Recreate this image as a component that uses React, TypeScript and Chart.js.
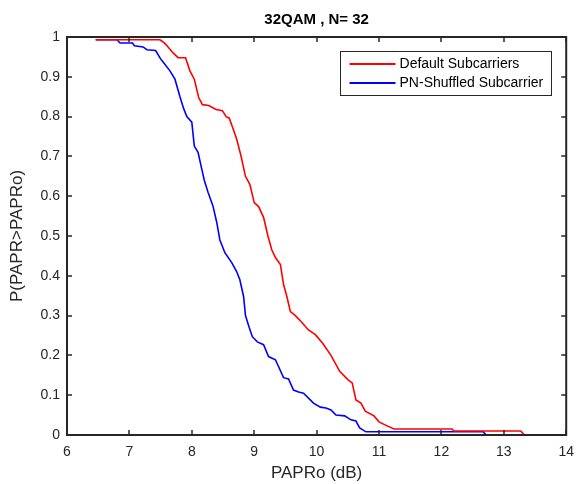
import React, { useEffect, useRef } from "react";
import { Chart, registerables } from "chart.js";

Chart.register(...registerables);

const TITLE = "32QAM , N= 32";
const X_LABEL = "PAPRo (dB)";
const Y_LABEL = "P(PAPR>PAPRo)";

const X_TICKS = [6, 7, 8, 9, 10, 11, 12, 13, 14];
const X_TICK_LABELS = ["6", "7", "8", "9", "10", "11", "12", "13", "14"];
const Y_TICKS = [0, 0.1, 0.2, 0.3, 0.4, 0.5, 0.6, 0.7, 0.8, 0.9, 1];
const Y_TICK_LABELS = ["0", "0.1", "0.2", "0.3", "0.4", "0.5", "0.6", "0.7", "0.8", "0.9", "1"];

const DEFAULT_LABEL = "Default Subcarriers";
const DEFAULT_X = [
  6.46, 7.49, 7.56, 7.62, 7.7, 7.78, 7.9, 7.97, 8.04, 8.11, 8.17, 8.27, 8.39, 8.49, 8.55,
  8.6, 8.66, 8.72, 8.79, 8.86, 8.93, 9.0, 9.07, 9.15, 9.22, 9.28, 9.34, 9.42, 9.47, 9.52,
  9.58, 9.66, 9.75, 9.87, 9.98, 10.1, 10.23, 10.37, 10.5, 10.57, 10.63, 10.71, 10.78, 10.92,
  11.0, 11.13, 11.24, 12.17, 12.2, 13.27, 13.33,
];
const DEFAULT_Y = [
  0.993, 0.993, 0.985, 0.975, 0.96, 0.948, 0.948, 0.915, 0.894, 0.848, 0.83, 0.828, 0.818,
  0.815, 0.8, 0.796, 0.77, 0.743, 0.7, 0.65, 0.63, 0.584, 0.574, 0.547, 0.5, 0.466, 0.446,
  0.428, 0.378, 0.35, 0.31, 0.3, 0.285, 0.264, 0.252, 0.23, 0.2, 0.16, 0.139, 0.131, 0.088,
  0.08, 0.06, 0.048, 0.033, 0.023, 0.015, 0.015, 0.01, 0.01, 0.0,
];

const SHUFFLED_LABEL = "PN-Shuffled Subcarrier";
const SHUFFLED_X = [
  6.46, 6.8, 6.85, 7.05, 7.08, 7.22, 7.28, 7.42, 7.5, 7.54, 7.65, 7.73, 7.81, 7.87, 7.92,
  8.0, 8.04, 8.1, 8.15, 8.2, 8.26, 8.34, 8.4, 8.45, 8.53, 8.64, 8.72, 8.77, 8.83, 8.86, 8.89,
  8.92, 8.97, 9.05, 9.15, 9.23, 9.34, 9.47, 9.55, 9.63, 9.71, 9.79, 9.95, 10.06, 10.15, 10.23,
  10.31, 10.45, 10.55, 10.63, 10.69, 10.79, 12.67, 12.72,
];
const SHUFFLED_Y = [
  0.993, 0.993, 0.985, 0.985, 0.978, 0.975, 0.968, 0.966, 0.945, 0.937, 0.915, 0.894, 0.85,
  0.82, 0.8, 0.786, 0.726, 0.71, 0.675, 0.64, 0.61, 0.575, 0.534, 0.49, 0.458, 0.433, 0.41,
  0.39, 0.348, 0.3, 0.285, 0.27, 0.247, 0.234, 0.227, 0.197, 0.189, 0.144, 0.141, 0.113, 0.108,
  0.105, 0.08, 0.07, 0.068, 0.063, 0.05, 0.048, 0.038, 0.035, 0.018, 0.008, 0.008, 0.0,
];

const FONT = "'Liberation Sans', Arial, Helvetica, sans-serif";
const AXIS_COLOR = "#262626";
const RED = "#ff0000";
const BLUE = "#0000ff";

const matlabPlugin = {
  id: "matlabDecor",
  afterDraw(chart: any) {
    const { ctx, chartArea: a, scales } = chart;
    const xs = scales.x;
    const ys = scales.y;
    ctx.save();

    // inward ticks on all four sides
    ctx.strokeStyle = AXIS_COLOR;
    ctx.lineWidth = 1.5;
    ctx.beginPath();
    const tl = 5;
    X_TICKS.forEach((v) => {
      const px = Math.round(xs.getPixelForValue(v));
      ctx.moveTo(px, a.bottom);
      ctx.lineTo(px, a.bottom - tl);
      ctx.moveTo(px, a.top);
      ctx.lineTo(px, a.top + tl);
    });
    Y_TICKS.forEach((v) => {
      const py = Math.round(ys.getPixelForValue(v));
      ctx.moveTo(a.left, py);
      ctx.lineTo(a.left + tl, py);
      ctx.moveTo(a.right, py);
      ctx.lineTo(a.right - tl, py);
    });
    ctx.stroke();

    // box
    ctx.lineWidth = 2;
    ctx.strokeRect(a.left, a.top, a.right - a.left, a.bottom - a.top);

    // title
    ctx.fillStyle = "#000000";
    ctx.font = `bold 15px ${FONT}`;
    ctx.textAlign = "center";
    ctx.textBaseline = "middle";
    ctx.fillText(TITLE, (a.left + a.right) / 2, 20);

    // axis titles
    ctx.fillStyle = AXIS_COLOR;
    ctx.font = `17px ${FONT}`;
    ctx.fillText(X_LABEL, (a.left + a.right) / 2, 473);
    ctx.save();
    ctx.translate(17, (a.top + a.bottom) / 2);
    ctx.rotate(-Math.PI / 2);
    ctx.fillText(Y_LABEL, 0, 0);
    ctx.restore();

    // legend
    const entries = chart.data.datasets.map((d: any) => ({ label: d.label, color: d.borderColor }));
    ctx.font = `14px ${FONT}`;
    const maxW = Math.max(...entries.map((e: any) => ctx.measureText(e.label).width));
    const lineLen = 46;
    const padL = 10;
    const gap = 4;
    const boxW = padL + lineLen + gap + maxW + 7;
    const boxH = 44;
    const boxRight = a.right - 16;
    const boxLeft = boxRight - boxW;
    const boxTop = a.top + 14;
    ctx.fillStyle = "#ffffff";
    ctx.fillRect(boxLeft, boxTop, boxW, boxH);
    ctx.lineWidth = 1;
    ctx.strokeStyle = AXIS_COLOR;
    ctx.strokeRect(Math.round(boxLeft) + 0.5, boxTop + 0.5, Math.round(boxW), boxH);
    entries.forEach((e: any, i: number) => {
      const cy = boxTop + 13 + i * 19;
      ctx.strokeStyle = e.color;
      ctx.lineWidth = 2;
      ctx.beginPath();
      ctx.moveTo(boxLeft + padL, cy);
      ctx.lineTo(boxLeft + padL + lineLen, cy);
      ctx.stroke();
      ctx.fillStyle = "#000000";
      ctx.textAlign = "left";
      ctx.textBaseline = "middle";
      ctx.fillText(e.label, boxLeft + padL + lineLen + gap, cy);
    });

    ctx.restore();
  },
};

export default function App() {
  const canvasRef = useRef<HTMLCanvasElement | null>(null);

  useEffect(() => {
    document.body.style.margin = "0";
    const canvas = canvasRef.current;
    if (!canvas) return;
    const chart = new Chart(canvas, {
      type: "line",
      data: {
        datasets: [
          {
            label: DEFAULT_LABEL,
            data: DEFAULT_X.map((x, i) => ({ x, y: DEFAULT_Y[i] })),
            borderColor: RED,
            backgroundColor: RED,
            borderWidth: 1.6,
            pointRadius: 0,
            tension: 0,
            fill: false,
          },
          {
            label: SHUFFLED_LABEL,
            data: SHUFFLED_X.map((x, i) => ({ x, y: SHUFFLED_Y[i] })),
            borderColor: BLUE,
            backgroundColor: BLUE,
            borderWidth: 1.6,
            pointRadius: 0,
            tension: 0,
            fill: false,
          },
        ],
      },
      options: {
        responsive: false,
        animation: false,
        devicePixelRatio: 1,
        layout: { padding: { top: 37, right: 13, left: 0, bottom: 0 } },
        plugins: {
          legend: { display: false },
          title: { display: false },
          tooltip: { enabled: false },
        },
        scales: {
          x: {
            type: "linear",
            min: 6,
            max: 14,
            grid: { display: false, drawTicks: false },
            border: { display: false },
            afterBuildTicks: (s: any) => {
              s.ticks = X_TICKS.map((v) => ({ value: v }));
            },
            afterFit: (s: any) => {
              s.height = 49;
            },
            ticks: {
              padding: 9,
              color: AXIS_COLOR,
              font: { family: FONT, size: 14 },
              maxRotation: 0,
              autoSkip: false,
              callback: (v: any) => X_TICK_LABELS[X_TICKS.indexOf(Number(v))] ?? "",
            },
          },
          y: {
            type: "linear",
            min: 0,
            max: 1,
            grid: { display: false, drawTicks: false },
            border: { display: false },
            afterBuildTicks: (s: any) => {
              s.ticks = Y_TICKS.map((v) => ({ value: v }));
            },
            afterFit: (s: any) => {
              s.width = 67;
            },
            ticks: {
              padding: 7,
              color: AXIS_COLOR,
              font: { family: FONT, size: 14 },
              autoSkip: false,
              callback: (v: any) => {
                const idx = Y_TICKS.findIndex((t) => Math.abs(t - Number(v)) < 1e-9);
                return idx >= 0 ? Y_TICK_LABELS[idx] : "";
              },
            },
          },
        },
      },
      plugins: [matlabPlugin],
    });
    return () => chart.destroy();
  }, []);

  return (
    <div style={{ width: 583, height: 484, background: "#ffffff" }}>
      <canvas ref={canvasRef} width={583} height={484} style={{ display: "block" }} />
    </div>
  );
}
